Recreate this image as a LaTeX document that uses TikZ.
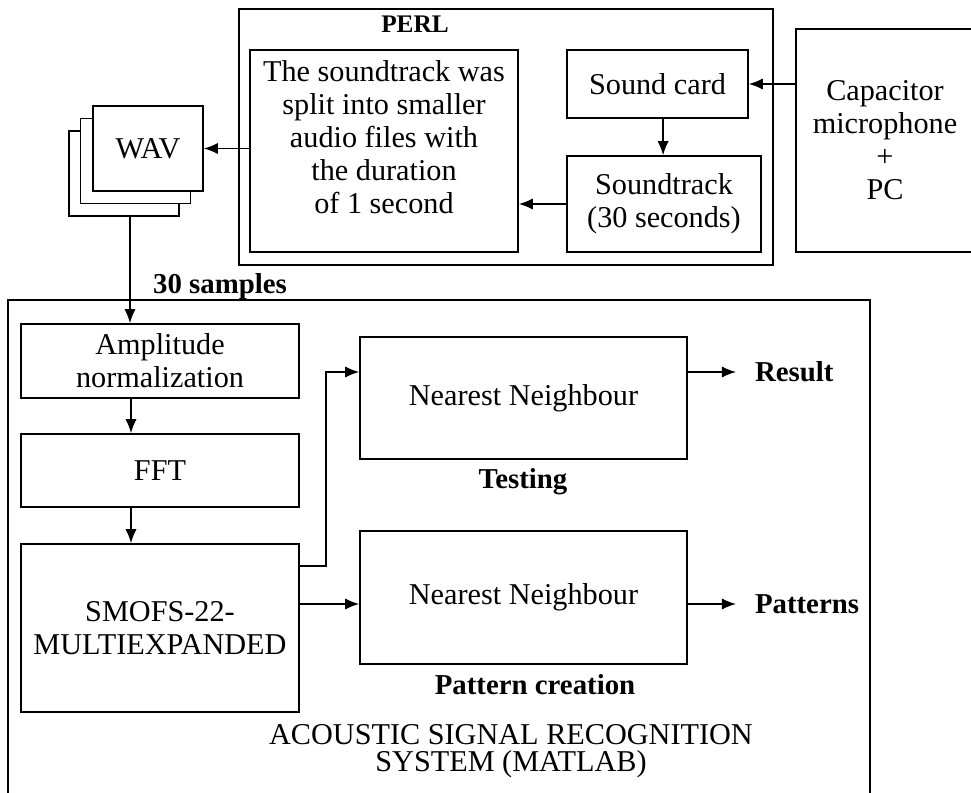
\documentclass[tikz,border=0pt]{standalone}
\usepackage{fontspec}
\setmainfont{Liberation Serif}
\usepackage{tikz}
\usetikzlibrary{arrows,arrows.meta,positioning}
\newcommand{\nfont}{\fontsize{21.5}{23.5}\selectfont}
\newcommand{\bfont}{\fontsize{20.5}{23.5}\selectfont\bfseries}
\tikzstyle{blk}=[draw,line width=1.1pt,align=center,inner sep=0pt,font=\nfont]
\tikzstyle{frame}=[draw,line width=1.1pt,inner sep=0pt]
\tikzstyle{wavs}=[blk,fill=white,minimum width=2.75cm,minimum height=2.125cm]
\tikzstyle{caption}=[inner sep=0pt,align=center,font=\bfont]
\tikzstyle{outlbl}=[caption,anchor=west,outer xsep=0.475cm]
\tikzstyle{hit}=[->,>={Latex[length=10pt,width=8pt]},line width=1.1pt]

\begin{document}
\begin{tikzpicture}[x=0.025cm,y=-0.025cm]
        \useasboundingbox (0,0) rectangle (971,793);
        \clip (0,0) rectangle (971,793);
        % PERL part
        \node [frame,minimum width=13.35cm,minimum height=6.4cm] (perl) at (506,137) {};
        \node [caption,font=\fontsize{18}{20}\selectfont\bfseries] (perltitle) at (415,24) {PERL};
        \node [blk,minimum width=6.7cm,minimum height=5.05cm,
               label={[align=center,font=\nfont,yshift=0.35cm]center:The soundtrack was\\split into smaller\\audio files with\\the duration\\of 1 second}] (split) at (384,151) {};
        \node [blk,minimum width=4.525cm,minimum height=1.7cm] (card) at (657.5,84) {Sound card};
        \node [blk,minimum width=4.85cm,minimum height=2.4cm] (track) at (664,204) {Soundtrack\\(30 seconds)};
        \node [blk,minimum width=4.45cm,minimum height=5.575cm] (mic) at (885,140.5) {Capacitor\\microphone\\+\\PC};
        \node [wavs] (wavc) at (124,173.5) {};
        \node [wavs] (wavb) at (135.5,161) {};
        \node [wavs] (wav) at (148,148.5) {WAV};
        \draw[hit] (card -| mic.west) -- (card.east);
        \draw[hit] ([xshift=0.14cm]card.south) -- ([xshift=0.14cm]card.south |- track.north);
        \draw[hit] (track.west) -- (track.west -| split.east);
        \draw[hit] (wav -| split.west) -- (wav.east);
        \node [caption] (samples) at (220,287) {30 samples};

        % MATLAB part
        \node [frame,minimum width=21.55cm,minimum height=13cm] (asr) at (439,560) {};
        \node [blk,minimum width=6.95cm,minimum height=1.85cm] (amp) at (160,361) {Amplitude\\normalization};
        \node [blk,minimum width=6.95cm,minimum height=1.825cm] (fft) at (160,470.5) {FFT};
        \node [blk,minimum width=6.95cm,minimum height=4.2cm] (smofs) at (160,628) {SMOFS-22-\\MULTIEXPANDED};
        \node [blk,minimum width=8.175cm,minimum height=3.05cm] (nntest) at (523.5,398) {Nearest Neighbour};
        \node [blk,minimum width=8.175cm,minimum height=3.325cm] (nnpat) at (523.5,597.5) {Nearest Neighbour};
        \node [caption] (testing) at (523,482) {Testing};
        \node [caption] (patcre) at (535,685) {Pattern creation};
        \node [outlbl] (result) at (736,372) {Result};
        \node [outlbl] (patterns) at (736,604) {Patterns};
        \node [inner sep=0pt,align=center,font=\fontsize{21.5}{19.5}\selectfont] (acoustic) at (511,751) {ACOUSTIC SIGNAL RECOGNITION\\SYSTEM (MATLAB)};
        \draw[hit] ([xshift=0.15cm]wavc.south) -- ([xshift=0.15cm]wavc.south |- amp.north);
        \draw[hit] ([xshift=-0.725cm]amp.south) -- ([xshift=-0.725cm]fft.north);
        \draw[hit] ([xshift=-0.725cm]fft.south) -- ([xshift=-0.725cm]smofs.north);
        \draw[hit] ([yshift=-0.575cm]smofs.north east) -- ++(26,0) |- (result -| nntest.west);
        \draw[hit] (patterns -| smofs.east) -- (patterns -| nnpat.west);
        \draw[hit] (result -| nntest.east) -- (result.west);
        \draw[hit] (patterns -| nnpat.east) -- (patterns.west);
\end{tikzpicture}
\end{document}
